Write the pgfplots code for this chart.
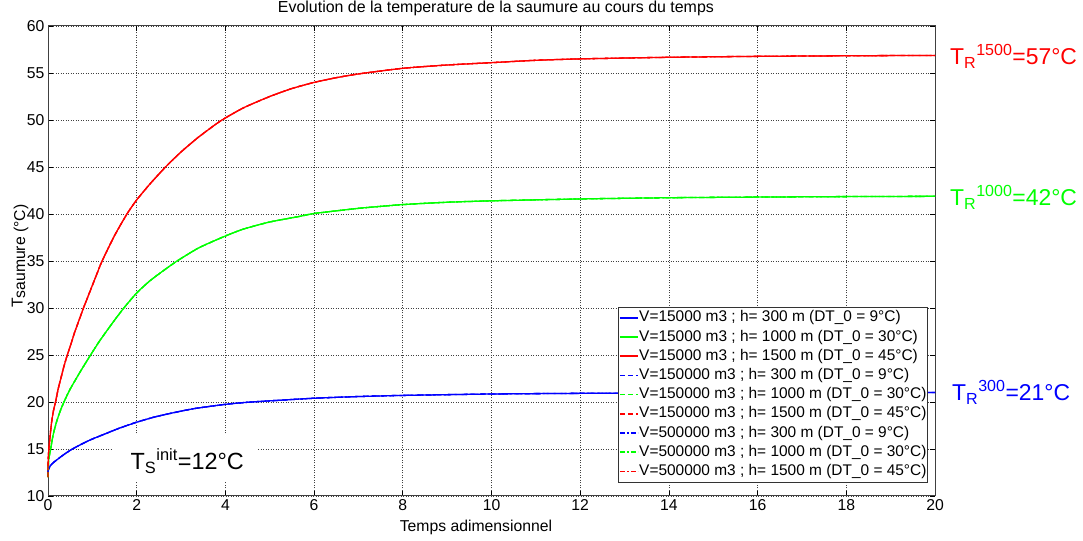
\documentclass[border=0pt]{standalone}
\usepackage{fontspec}
\setmainfont{Liberation Sans}
\usepackage{pgfplots}
\pgfplotsset{compat=1.18}
\usepackage{pgfplotstable}

\pgfplotstableread{
x y
0 12.5
0.01 12.8
0.05 13.2
0.12 13.55
0.27 14.1
0.4 14.55
0.55 15.0
0.75 15.5
0.95 15.96
1.15 16.35
1.32 16.67
1.6 17.2
2.0 17.85
2.4 18.4
2.82 18.85
3.3 19.3
4.0 19.75
4.5 19.97
5.07 20.14
6.0 20.4
7.0 20.58
8.0 20.7
10 20.85
12 20.92
14 20.96
16 20.98
18 21.0
20 21.0
}\bluetab

\pgfplotstableread{
x y
0 12.0
0.005 13.0
0.02 14.0
0.06 15.0
0.12 16.6
0.2 18.0
0.28 19.1
0.36 20.0
0.48 21.2
0.6 22.2
0.75 23.4
0.96 25.0
1.15 26.4
1.3 27.4
1.5 28.7
1.71 30.0
2.0 31.6
2.3 32.9
2.61 34.0
2.91 35.0
3.4 36.4
4.0 37.66
4.41 38.4
5.0 39.15
5.68 39.75
6.0 40.05
7.0 40.6
8.0 41.0
9.0 41.25
10 41.4
12 41.6
14 41.73
16 41.8
18 41.85
20 41.88
}\greentab

\pgfplotstableread{
x y
0 12.0
0.003 13.5
0.01 14.3
0.02 15.0
0.05 16.5
0.08 17.8
0.12 19.0
0.17 20.0
0.23 21.4
0.3 22.7
0.36 23.8
0.435 25.0
0.52 26.2
0.6 27.4
0.7 28.7
0.8 30.0
0.9 31.2
1.0 32.4
1.1 33.6
1.22 35.0
1.5 37.7
1.78 40.0
2.0 41.5
2.3 43.2
2.65 45.0
3.0 46.6
3.4 48.2
3.89 49.9
4.41 51.3
5.0 52.5
5.5 53.35
6.0 54.0
6.5 54.5
7.0 54.9
8.0 55.5
9.0 55.85
10 56.1
11 56.35
12 56.5
14 56.67
16 56.77
18 56.83
20 56.87
}\redtab

\definecolor{mblue}{RGB}{0,0,255}
\definecolor{mgreen}{RGB}{0,255,0}
\definecolor{mred}{RGB}{255,0,0}

\begin{document}
\begin{tikzpicture}
\begin{axis}[
  scale only axis, width=887bp, height=470bp,
  xmin=0, xmax=20, ymin=10, ymax=60,
  xtick={0,2,...,20}, ytick={10,15,...,60},
  grid=major,
  grid style={dash pattern=on 1bp off 1.5bp, line width=0.7bp, black!75},
  axis line style={line width=1bp, black!75},
  tick style={black, line width=0.7bp},
  major tick length=5bp,
  tick align=inside,
  ticklabel style={font=\fontsize{15.8}{19}\selectfont},
  /pgf/number format/assume math mode=true,
  clip=false,
  title={Evolution de la temperature de la saumure au cours du temps},
  title style={font=\fontsize{16}{19}\selectfont, at={(axis description cs:0.505,1.0255)}, anchor=center},
  xlabel={Temps adimensionnel},
  xlabel style={font=\fontsize{15.8}{19}\selectfont, at={(axis description cs:0.4825,-0.066)}, anchor=center},
  ylabel={T\raisebox{-2.5bp}{saumure (°C)}},
  ylabel style={font=\fontsize{15.8}{19}\selectfont, at={(axis description cs:-0.0316,0.51)}, anchor=center},
  legend cell align=left,
  legend style={at={(1,0)}, anchor=south east, xshift=-7bp, yshift=13bp,
    font=\fontsize{15.5}{18}\selectfont, draw=black!80, line width=0.8bp, fill=white,
    inner xsep=0.5bp, inner ysep=1bp, row sep=0pt,
    nodes={inner xsep=0.6bp, inner ysep=2.1bp, text height=11bp, text depth=4bp}},
  legend image code/.code={\draw[#1] (0bp,0.5bp) -- (18bp,0.5bp);},
  every axis plot/.append style={line width=1.3bp, smooth, tension=0.35},
]
\addplot[mblue, solid, forget plot] table {\bluetab};
\addplot[mgreen, solid, forget plot] table {\greentab};
\addplot[mred, solid, forget plot] table {\redtab};
\addplot[mblue, dash pattern=on 6bp off 3bp, forget plot] table {\bluetab};
\addplot[mgreen, dash pattern=on 6bp off 3bp, forget plot] table {\greentab};
\addplot[mred, dash pattern=on 6bp off 3bp, forget plot] table {\redtab};
\addplot[mblue, dash pattern=on 5bp off 2bp on 2bp off 2bp, forget plot] table {\bluetab};
\addplot[mgreen, dash pattern=on 5bp off 2bp on 2bp off 2bp, forget plot] table {\greentab};
\addplot[mred, dash pattern=on 5bp off 2bp on 2bp off 2bp, forget plot] table {\redtab};

\addlegendimage{draw=mblue, line width=1.6bp, solid}
\addlegendentry{V=15000 m3 ; h= 300 m (DT\_0 = 9°C)}
\addlegendimage{draw=mgreen, line width=1.6bp, solid}
\addlegendentry{V=15000 m3 ; h= 1000 m (DT\_0 = 30°C)}
\addlegendimage{draw=mred, line width=1.6bp, solid}
\addlegendentry{V=15000 m3 ; h= 1500 m (DT\_0 = 45°C)}
\addlegendimage{draw=mblue, line width=1.6bp, dash pattern=on 5bp off 3bp}
\addlegendentry{V=150000 m3 ; h= 300 m (DT\_0 = 9°C)}
\addlegendimage{draw=mgreen, line width=1.6bp, dash pattern=on 5bp off 3bp}
\addlegendentry{V=150000 m3 ; h= 1000 m (DT\_0 = 30°C)}
\addlegendimage{draw=mred, line width=1.6bp, dash pattern=on 5bp off 3bp}
\addlegendentry{V=150000 m3 ; h= 1500 m (DT\_0 = 45°C)}
\addlegendimage{draw=mblue, line width=1.6bp, dash pattern=on 5bp off 2bp on 2bp off 2bp}
\addlegendentry{V=500000 m3 ; h= 300 m (DT\_0 = 9°C)}
\addlegendimage{draw=mgreen, line width=1.6bp, dash pattern=on 5bp off 2bp on 2bp off 2bp}
\addlegendentry{V=500000 m3 ; h= 1000 m (DT\_0 = 30°C)}
\addlegendimage{draw=mred, line width=1.6bp, dash pattern=on 5bp off 2bp on 2bp off 2bp}
\addlegendentry{V=500000 m3 ; h= 1500 m (DT\_0 = 45°C)}

\fill[white] (axis cs:1.44,11.49) rectangle (axis cs:4.73,16.49);
\node[anchor=base west, inner sep=0pt, font=\fontsize{23.5}{27}\selectfont] at (axis cs:1.86,12.84) {T\textsubscript{S}\textsuperscript{init}=12°C};
\node[anchor=base west, inner sep=0pt, xshift=15bp, text=mred, font=\fontsize{23}{27}\selectfont] at (axis cs:20,55.9) {T\textsubscript{R}\textsuperscript{1500}=57°C};
\node[anchor=base west, inner sep=0pt, xshift=15bp, text=mgreen, font=\fontsize{23}{27}\selectfont] at (axis cs:20,40.9) {T\textsubscript{R}\textsuperscript{1000}=42°C};
\node[anchor=base west, inner sep=0pt, xshift=17bp, text=mblue, font=\fontsize{23}{27}\selectfont] at (axis cs:20,20.14) {T\textsubscript{R}\textsuperscript{300}=21°C};
\end{axis}
\pgfresetboundingbox
\useasboundingbox ([xshift=-48bp,yshift=-45bp]current axis.south west) rectangle ([xshift=148bp,yshift=26bp]current axis.north east);
\end{tikzpicture}
\end{document}
